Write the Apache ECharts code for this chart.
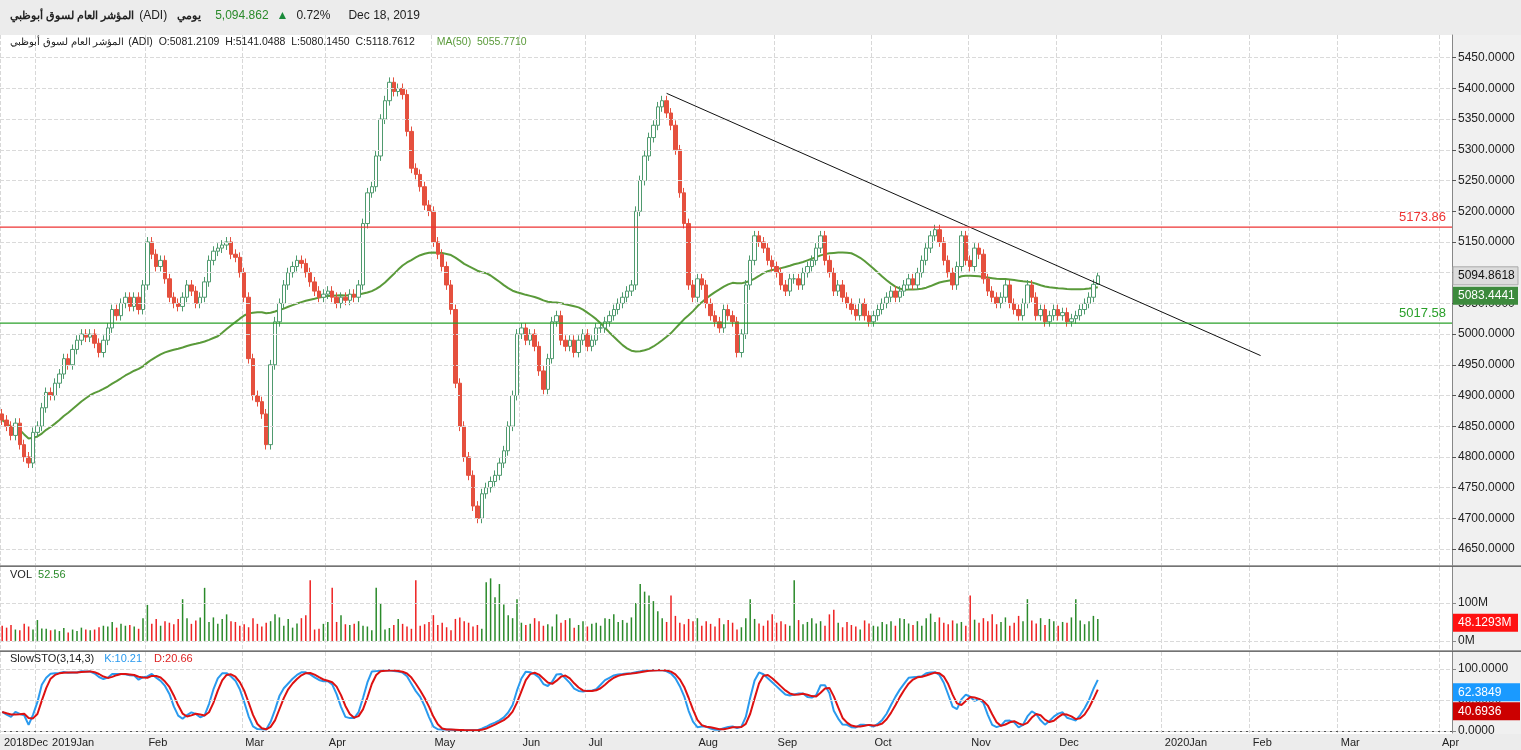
<!DOCTYPE html>
<html><head><meta charset="utf-8">
<script src="https://cdn.jsdelivr.net/npm/echarts@6/dist/echarts.min.js"></script>
<style>html,body{margin:0;padding:0;background:#fff}#c{width:1521px;height:750px}</style>
</head><body><div id="c"></div>
<script>
// ---- data ----
const closes = [
4860,4850,4835,4855,4820,4800,4790,4840,4850,4880,
4905,4900,4920,4935,4960,4950,4975,4990,5000,4995,
5000,4985,4970,4990,5010,5040,5030,5050,5060,5045,
5060,5040,5080,5150,5130,5110,5120,5090,5060,5050,
5045,5060,5080,5070,5050,5060,5085,5120,5135,5140,
5145,5150,5130,5125,5100,5060,4960,4900,4890,4870,
4820,4950,5020,5050,5080,5100,5110,5120,5115,5100,
5085,5070,5060,5065,5070,5060,5050,5060,5055,5065,
5060,5080,5180,5230,5240,5290,5350,5380,5410,5395,
5400,5390,5330,5270,5260,5240,5210,5200,5150,5130,
5110,5080,5040,4920,4850,4800,4770,4720,4700,4740,
4750,4760,4770,4790,4810,4850,4900,5000,5010,4990,
5000,4980,4940,4910,4960,5020,5030,4990,4980,4990,
4970,4990,5000,4980,4990,5010,5010,5020,5030,5040,
5050,5060,5070,5080,5200,5250,5290,5320,5340,5370,
5380,5360,5340,5300,5230,5180,5080,5060,5090,5080,
5050,5030,5020,5010,5040,5030,5020,4970,5000,5080,
5120,5160,5150,5140,5120,5110,5100,5080,5070,5090,
5090,5080,5100,5110,5120,5140,5160,5120,5100,5070,
5080,5060,5050,5040,5030,5050,5030,5020,5030,5040,
5050,5060,5070,5060,5070,5080,5090,5080,5100,5120,
5140,5160,5170,5150,5120,5100,5080,5110,5160,5120,
5110,5140,5130,5090,5070,5060,5050,5060,5080,5050,
5040,5030,5050,5080,5060,5030,5040,5020,5030,5040,
5030,5035,5020,5025,5030,5040,5050,5060,5081,5094.86];
const volumes = [
40,35,42,30,28,45,38,30,55,33,32,28,30,26,34,22,30,26,35,30,
28,30,36,40,38,50,35,45,40,42,38,32,60,95,45,58,40,52,48,44,
58,110,60,45,54,62,140,50,62,45,58,70,52,50,40,44,36,60,45,38,
48,52,70,62,40,58,35,46,60,68,160,30,32,45,50,140,50,68,44,42,
45,52,40,38,28,140,100,30,34,42,58,45,38,32,160,40,44,50,68,42,
48,36,28,58,62,52,48,38,42,32,155,165,115,150,96,68,60,110,48,42,
45,60,52,40,44,38,70,48,55,60,35,42,52,38,45,48,40,60,58,70,
50,55,48,62,100,150,130,120,105,78,60,50,120,66,48,44,58,52,60,40,
52,45,38,60,44,55,48,30,36,60,110,58,46,40,54,70,48,52,44,40,
160,55,44,50,60,46,52,40,70,82,48,36,50,42,38,30,54,46,40,38,
50,44,52,40,60,58,46,42,52,40,60,72,50,62,48,44,54,46,50,40,
120,56,48,60,52,70,44,50,62,40,48,66,52,110,54,46,60,42,58,52,
40,50,48,62,110,54,44,52,66,58];
const monthTicks = [[0,'2018Dec'],[8,'2019Jan'],[33,'Feb'],[55,'Mar'],[74,'Apr'],[98,'May'],[118,'Jun'],[133,'Jul'],[158,'Aug'],[176,'Sep'],[198,'Oct'],[220,'Nov'],[240,'Dec'],[264,'2020Jan'],[284,'Feb'],[304,'Mar'],[327,'Apr']];
const priceTicks = [4650,4700,4750,4800,4850,4900,4950,5000,5050,5100,5150,5200,5250,5300,5350,5400,5450];
const trendLine = [[151,5392],[286,4965]];
const resistance = 5173.86, support = 5017.58;
const lastClose = 5094.8618, lastMA = 5083.4441, lastVol = 48.1293e6, lastK = 62.3849, lastD = 40.6936;
const totalSlots = 330;

// ---- build ----
const cats = []; for (let i=0;i<totalSlots;i++) cats.push(String(i));
const tickMap = {}; monthTicks.forEach(t=>tickMap[t[0]]=t[1]);
const ohlc = closes.map((c,i)=>{
  const o = i===0 ? 4870 : closes[i-1];
  const hi = Math.max(o,c), lo = Math.min(o,c);
  return [o,c,lo-8,hi+8];
});
ohlc[ohlc.length-1] = [5081.21,5094.86,5080.15,5100];
const ma = closes.map((c,i)=>{const s=closes.slice(Math.max(0,i-49),i+1);return s.reduce((a,b)=>a+b,0)/s.length;});
const rawK = ohlc.map((d,i)=>{const w=ohlc.slice(Math.max(0,i-13),i+1);const hh=Math.max(...w.map(x=>x[3])),ll=Math.min(...w.map(x=>x[2]));return hh===ll?50:(d[1]-ll)/(hh-ll)*100;});
const sma=(a,n)=>a.map((v,i)=>{const s=a.slice(Math.max(0,i-n+1),i+1);return s.reduce((x,y)=>x+y,0)/s.length;});
const K = sma(rawK,3), D = sma(K,3);
const volData = volumes.map((v,i)=>({value:v*1e6,itemStyle:{color: ohlc[i][1]>=ohlc[i][0]?'#2a8a2a':'#ee2222'}}));

const xBase = (gi)=>({type:'category',gridIndex:gi,data:cats,boundaryGap:true,
  axisLine:{show:gi===2,lineStyle:{color:'#555'}},axisTick:{show:false},axisLabel:{show:false},
  splitLine:{show:true,interval:(i)=>tickMap[i]!==undefined,lineStyle:{color:'#d8d8d8',type:'dashed'}}});
const lab = {color:'#222',fontSize:12,fontFamily:'Liberation Sans'};
const F = '"Liberation Sans"';
const dash = v=>({yAxis:v,lineStyle:{color:'#dadada',type:'dashed',width:1},label:{show:false}});

const chart = echarts.init(document.getElementById('c'));
chart.setOption({
  animation:false,
  backgroundColor:'#fff',
  grid:[
    {left:0,right:69,top:35,height:530},
    {left:0,right:69,top:567,height:83},
    {left:0,right:69,top:652,height:81}
  ],
  xAxis:[xBase(0),xBase(1),xBase(2)],
  yAxis:[
    {type:'value',gridIndex:0,position:'right',min:4624,max:5487,
     axisLine:{show:true,lineStyle:{color:'#888'}},axisTick:{show:true,customValues:priceTicks,length:4,lineStyle:{color:'#555'}},
     axisLabel:Object.assign({customValues:priceTicks,formatter:v=>v.toFixed(4),margin:6},lab),splitLine:{show:false}},
    {type:'value',gridIndex:1,position:'right',min:-24e6,max:195e6,
     axisLine:{show:true,lineStyle:{color:'#888'}},axisTick:{show:true,customValues:[0,100e6],length:4},
     axisLabel:Object.assign({customValues:[0,100e6],formatter:v=>(v/1e6)+'M',margin:6},lab),splitLine:{show:false}},
    {type:'value',gridIndex:2,position:'right',min:-3,max:127,
     axisLine:{show:true,lineStyle:{color:'#888'}},axisTick:{show:true,customValues:[0,50,100],length:4},
     axisLabel:Object.assign({customValues:[0,50,100],formatter:v=>v.toFixed(4),margin:6},lab),splitLine:{show:false}}
  ],
  series:[
    {type:'line',xAxisIndex:0,yAxisIndex:0,data:ma,showSymbol:false,lineStyle:{color:'#5a9a3a',width:2},z:3,
     markLine:{symbol:'none',silent:true,animation:false,data:[
       ...priceTicks.map(dash),
       [{coord:[String(trendLine[0][0]),trendLine[0][1]],lineStyle:{color:'#111',type:'solid',width:1},label:{show:false}},{coord:[String(trendLine[1][0]),trendLine[1][1]]}]
     ]}},
    {type:'candlestick',xAxisIndex:0,yAxisIndex:0,data:ohlc,barWidth:4,z:4,
     itemStyle:{color:'#ffffff',color0:'#e5503e',borderColor:'#4f9a6e',borderColor0:'#e5503e',borderWidth:1}},
    {type:'bar',xAxisIndex:1,yAxisIndex:1,data:volData,barWidth:1.5,
     markLine:{symbol:'none',silent:true,data:[dash(0),dash(100e6)]}},
    {type:'line',xAxisIndex:2,yAxisIndex:2,data:K,showSymbol:false,lineStyle:{color:'#2a9aee',width:2},
     markLine:{symbol:'none',silent:true,data:[dash(0),dash(50),dash(100)]}},
    {type:'line',xAxisIndex:2,yAxisIndex:2,data:D,showSymbol:false,lineStyle:{color:'#dd1111',width:2}}
  ]
});
const ctx = document.createElement('canvas').getContext('2d');
const W = (t,f)=>{ctx.font=f;return ctx.measureText(t).width;};
const row = (x,y,parts)=>parts.map(p=>{const el={type:'text',x:x,y:y,z:20,style:{text:p[0],font:p[1],fill:p[2]}};x+=W(p[0],p[1])+(p[3]||8);return el;});
const py = (g,v)=>chart.convertToPixel({gridIndex:g},['0',v])[1];
const px = (i)=>chart.convertToPixel({gridIndex:2},[String(i),0])[0];
const hl = (g,v,col,txt)=>{const y=Math.round(py(g,v));return [
  {type:'rect',shape:{x:0,y:y-0.5,width:1452,height:1.2},style:{fill:col},z:5},
  {type:'text',x:1446,y:y-3,style:{text:txt,font:'13px '+F,fill:col,align:'right',verticalAlign:'bottom'},z:5}];};
const bx = (y,txt,fg,bg,w,bc)=>[
  {type:'rect',shape:{x:1453,y:y-9,width:w,height:18},style:{fill:bg,stroke:bc||null,lineWidth:1},z:10},
  {type:'text',x:1458,y:y,style:{text:txt,font:'12px '+F,fill:fg,verticalAlign:'middle'},z:11}];
const yClose = py(0,lastClose), yMA = Math.max(py(0,lastMA), yClose+20);
const yK = py(2,lastK), yD = Math.max(py(2,lastD), yK+19);
// month labels: never let a label start before the previous one ends
const monthLabels = []; let prevEnd = 0;
monthTicks.forEach(t=>{const f='11px '+F;const x=Math.max(2,px(t[0])+1,prevEnd+4);prevEnd=x+W(t[1],f);
  monthLabels.push({type:'text',x:x,y:737,z:20,style:{text:t[1],font:f,fill:'#222'}});});
chart.setOption({graphic:[
  {type:'rect',shape:{x:0,y:0,width:1521,height:35},style:{fill:'#ececec'},z:-1},
  {type:'rect',shape:{x:1452,y:35,width:69,height:715},style:{fill:'#f0f0f0'},z:-1},
  {type:'rect',shape:{x:0,y:734,width:1521,height:16},style:{fill:'#ececec'},z:-1},
  ...monthLabels,
  ...row(10,10,[['المؤشر العام لسوق أبوظبي','bold 11px '+F,'#222',5],['(ADI)','12px '+F,'#222',10],['يومي','bold 11px '+F,'#222',14],['5,094.862','12px '+F,'#2a8a2a',8],['▲','12px '+F,'#1a8a3a',8],['0.72%','12px '+F,'#222',18],['Dec 18, 2019','12px '+F,'#222']]),
  ...row(10,37,[['المؤشر العام لسوق أبوظبي','10px '+F,'#222',4],['(ADI)  O:5081.2109  H:5141.0488  L:5080.1450  C:5118.7612','10.5px '+F,'#222',22],['MA(50)  5055.7710','10.5px '+F,'#5a9a3a']]),
  ...row(10,569,[['VOL','11px '+F,'#222',6],['52.56','11px '+F,'#2a8a2a']]),
  ...row(10,653,[['SlowSTO(3,14,3)','11px '+F,'#222',10],['K:10.21','11px '+F,'#2a9aee',12],['D:20.66','11px '+F,'#dd2222']]),
  {type:'rect',shape:{x:0,y:565.5,width:1521,height:1.3},style:{fill:'#444'},z:6},
  {type:'rect',shape:{x:0,y:650.5,width:1521,height:1.3},style:{fill:'#444'},z:6},
  ...hl(0,resistance,'#ee3333','5173.86'),
  ...hl(0,support,'#2aa02a','5017.58'),
  ...bx(yClose,'5094.8618','#111','#dcdcdc',65,'#aaa'),
  ...bx(yMA,'5083.4441','#fff','#3d8a3d',65),
  ...bx(py(1,lastVol),'48.1293M','#fff','#ff1111',65),
  ...bx(yK,'62.3849','#fff','#1a9aff',67),
  ...bx(yD,'40.6936','#fff','#cc0000',67)
]});
</script></body></html>
